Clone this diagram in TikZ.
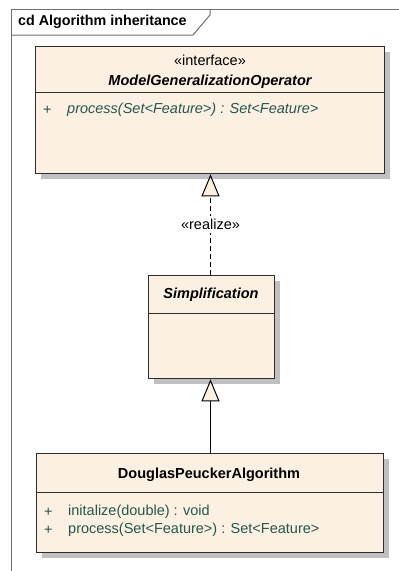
\documentclass[tikz,border=0pt]{standalone}
\usepackage{fontspec}
\setmainfont{Liberation Sans}
\usetikzlibrary{arrows.meta,shadows}
\definecolor{beige}{RGB}{251,240,225}
\definecolor{opcol}{RGB}{38,86,78}
\definecolor{edgec}{RGB}{45,45,45}
\definecolor{framec}{RGB}{110,110,110}
\definecolor{shadowc}{RGB}{192,192,192}
\begin{document}
\begin{tikzpicture}[x=1pt,y=-1pt,
  classbox/.style={draw=edgec, line width=1.3pt, fill=beige, anchor=north west, inner sep=0pt,
    drop shadow={shadow xshift=5pt, shadow yshift=-5pt, fill=shadowc, opacity=1}},
  divider/.style={draw=edgec, line width=1pt},
  txt/.style={inner sep=0pt, font=\fontsize{14.5}{16}\selectfont},
  optxt/.style={txt, anchor=west, text=opcol},
  gen/.style={draw=black, line width=1pt, -{Triangle[open, fill=beige, length=22pt, width=18pt, line width=1pt]}},
]
\useasboundingbox (0,0) rectangle (399,571);
% frame
\draw[framec, line width=1pt] (399,9) -- (11,9) -- (11,571);
\draw[framec, line width=1pt] (11,35) -- (193,35) -- (210,15) -- (210,9);
\node[txt, anchor=west, font=\fontsize{14.3}{16}\selectfont\bfseries] (title) at (18,22) {cd Algorithm inheritance};

% interface box
\node[classbox, minimum width=349pt, minimum height=127pt] (iface) at (35,46) {};
\draw[divider] (35,92) -- (384,92);
\node[txt] (ster) at (210,60) {«interface»};
\node[txt, font=\fontsize{14.5}{16}\selectfont\bfseries\itshape] (ifname) at (210,82) {ModelGeneralizationOperator};
\node[optxt] (ifplus) at (43,110) {+};
\node[optxt, font=\fontsize{14.5}{16}\selectfont\itshape] (ifop) at (67,110) {process(Set<Feature>) : Set<Feature>};

% Simplification box
\node[classbox, minimum width=126pt, minimum height=103pt] (simp) at (148,275) {};
\draw[divider] (148,313) -- (274,313);
\node[txt, font=\fontsize{14.5}{16}\selectfont\bfseries\itshape] (simpname) at (211,295) {Simplification};

% Douglas box
\node[classbox, minimum width=347pt, minimum height=99pt] (dp) at (36,453) {};
\draw[divider] (36,492) -- (383,492);
\node[txt, font=\fontsize{14.5}{16}\selectfont\bfseries] (dpname) at (209,475) {DouglasPeuckerAlgorithm};
\node[optxt] (dpplus1) at (44,512) {+};
\node[optxt] (dpop1) at (68,512) {initalize(double) : void};
\node[optxt] (dpplus2) at (44,530) {+};
\node[optxt] (dpop2) at (68,530) {process(Set<Feature>) : Set<Feature>};

% connectors
\draw[gen, dashed, dash pattern=on 5pt off 3pt] (210.5,275) coordinate (rs) -- node[midway, fill=white, txt, inner ysep=3pt, inner xsep=1pt] (realize) {«realize»} (rs |- iface.south);
\draw[gen] (210.5,453) coordinate (gs) -- (gs |- simp.south);
\end{tikzpicture}
\end{document}
